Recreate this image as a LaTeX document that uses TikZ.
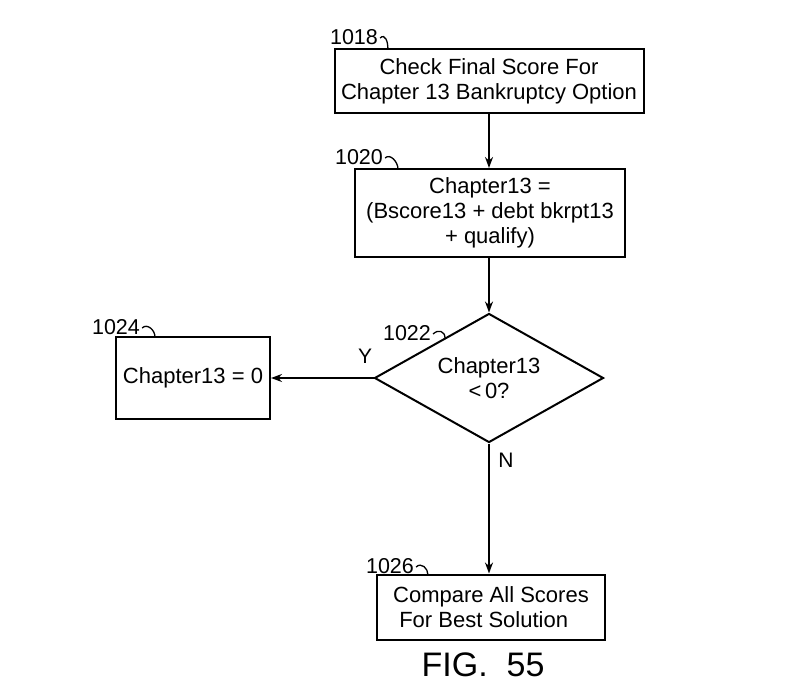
\documentclass[tikz,border=0pt]{standalone}
\usepackage{fontspec}
\setmainfont{Liberation Sans}
\usetikzlibrary{shapes.geometric,arrows.meta}
\begin{document}
\begin{tikzpicture}[x=1pt,y=-1pt,
  box/.style={draw,line width=2pt,inner sep=0pt,font=\fontsize{22}{25}\selectfont,align=center},
  dia/.style={draw,diamond,line width=2pt,inner sep=0pt,shape aspect=1.775,minimum width=229pt,minimum height=129pt,font=\fontsize{22}{25}\selectfont,align=center},
  ref/.style={font=\fontsize{21.5}{22}\selectfont,inner sep=0pt},
  yn/.style={font=\fontsize{21}{22}\selectfont,inner sep=0pt},
  arr/.style={line width=2pt,-{Stealth[length=11pt,width=8pt]}},
  hook/.style={line width=1.3pt}]
\useasboundingbox (0,0) rectangle (803,698);
\node[box,minimum width=309pt,minimum height=64pt] (b1018) at (489,81) {Check Final Score For\\Chapter 13 Bankruptcy Option};
\node[box,minimum width=270pt,minimum height=88pt] (b1020) at (490,213) {Chapter13 =\\(Bscore13 + debt bkrpt13\\+ qualify)};
\node[dia] (d1022) at (489,378) {Chapter13\\<\,0?};
\node[box,minimum width=154pt,minimum height=82pt] (b1024) at (193,378) {Chapter13 = 0};
\node[box,minimum width=228pt,minimum height=65pt,align=left] (b1026) at (491,607) {Compare All Scores\\\ For Best Solution};
\node[font=\fontsize{34}{36}\selectfont,inner sep=0pt] (fig) at (483,665) {FIG.\ \ 55};
\draw[arr] (b1018.south) -- (b1018.south |- b1020.north);
\draw[arr] (b1020.south -| d1022.north) -- (d1022.north);
\draw[arr] (d1022.west) -- (b1024.east);
\draw[arr] (d1022.south) -- (d1022.south |- b1026.north);
\node[yn] (ly) at (365,356) {Y};
\node[yn] (ln) at (506,460) {N};
\node[ref] (l1018) at (354,37) {1018};
\node[ref] (l1020) at (359,157) {1020};
\node[ref] (l1024) at (116,327) {1024};
\node[ref] (l1022) at (407,333) {1022};
\node[ref] (l1026) at (390,566) {1026};
\coordinate (h1018) at (388,49);
\coordinate (h1020) at (398,169);
\coordinate (h1024) at (155,337);
\coordinate (h1022) at (445,338);
\coordinate (h1026) at (428,575);
\foreach \n in {1018,1020,1024,1022,1026}{
  \draw[hook] ([xshift=2pt,yshift=-1pt]l\n.east) .. controls +(5,-5) and +(0,-7) .. (h\n);
}
\end{tikzpicture}
\end{document}
